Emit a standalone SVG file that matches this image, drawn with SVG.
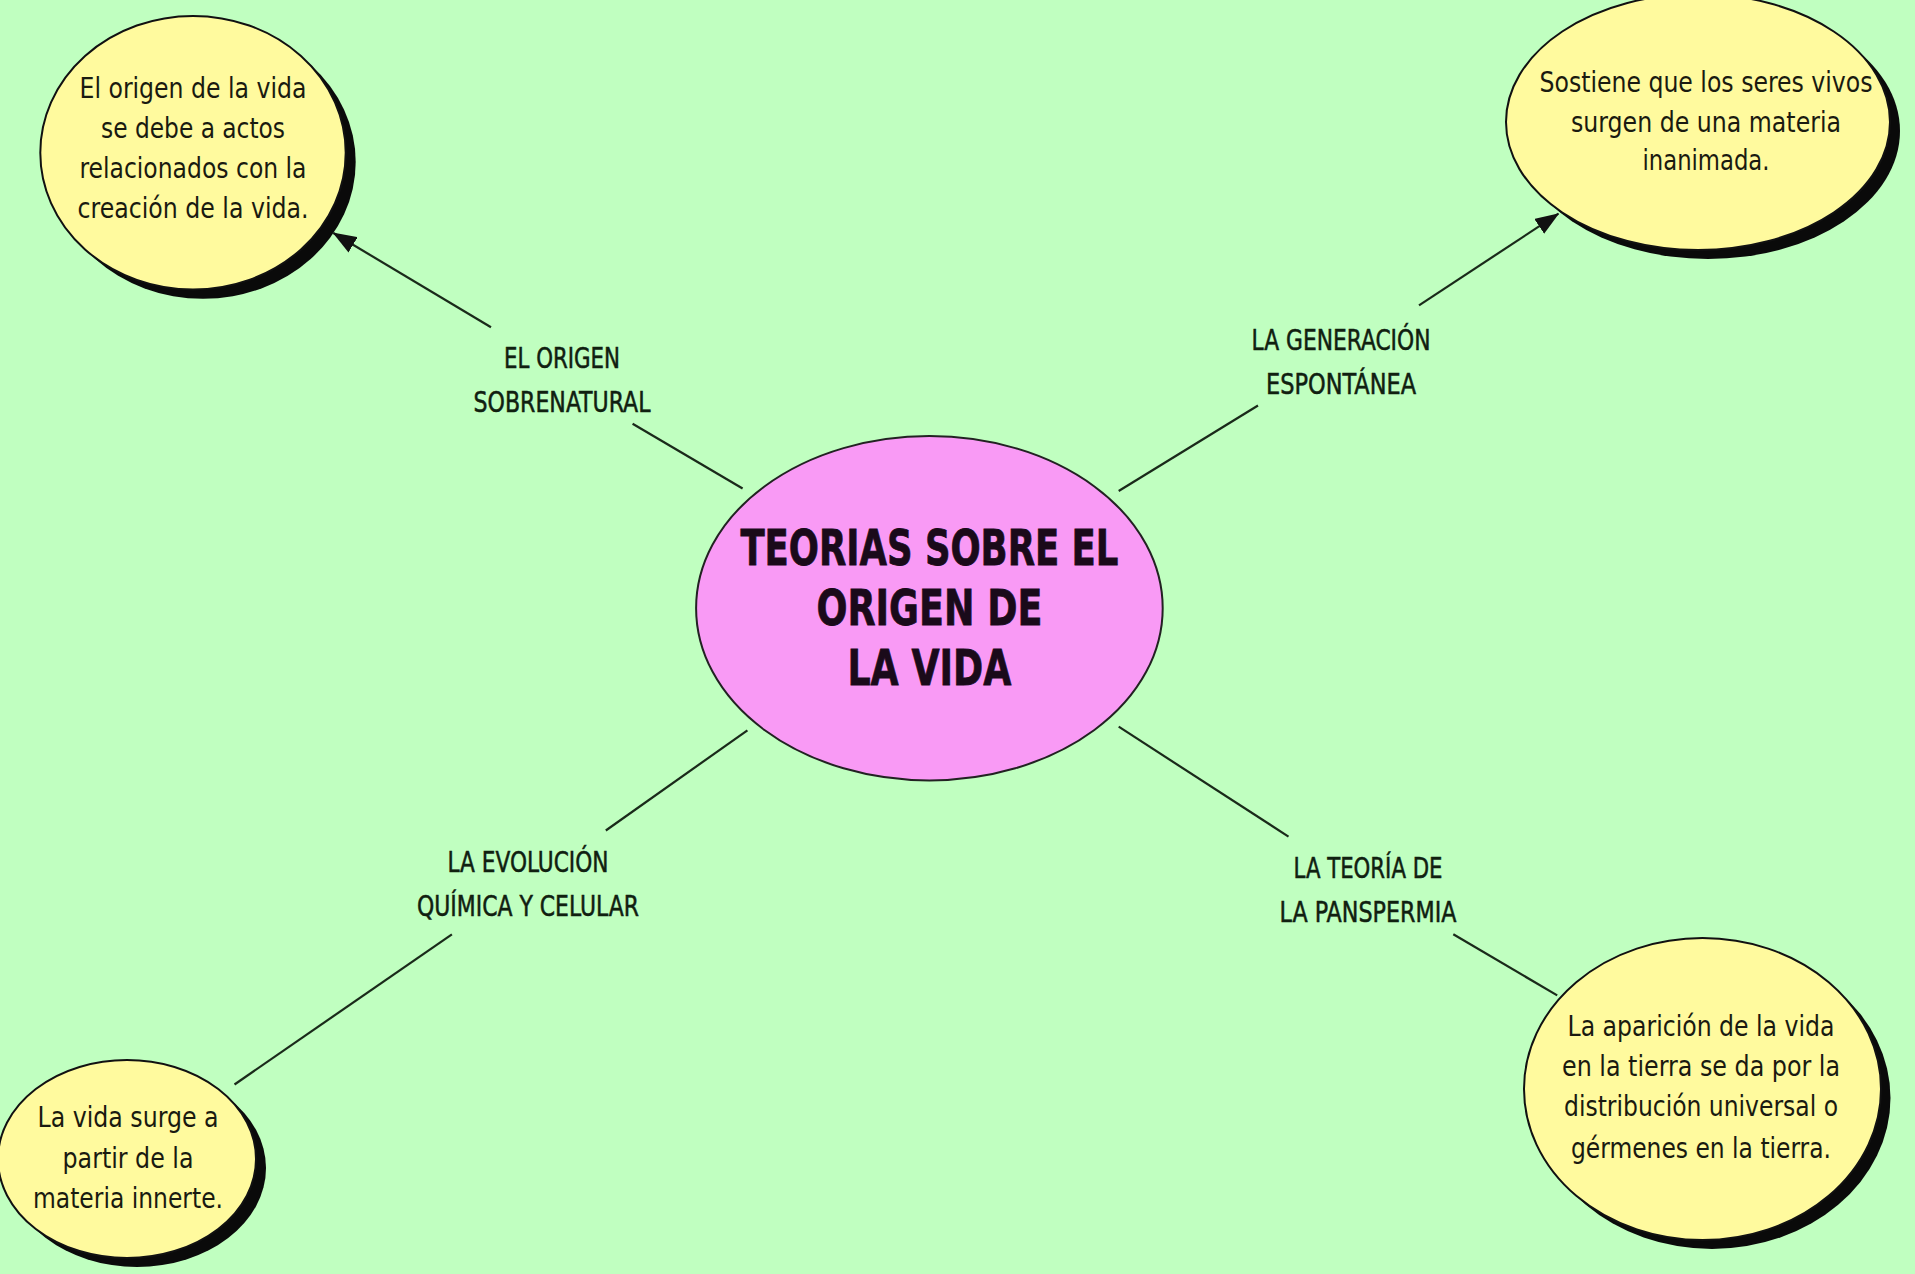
<svg xmlns="http://www.w3.org/2000/svg" width="1915" height="1274" viewBox="0 0 1915 1274">
<defs>
<marker id="arrow" viewBox="0 0 24 18" refX="23" refY="9" markerWidth="24" markerHeight="18" markerUnits="userSpaceOnUse" orient="auto">
<path d="M0,0 L24,9 L0,18 Z" fill="#111"/>
</marker>
<style>
.bg{fill:#C0FFC0}
.yel{fill:#FFFA9E;stroke:#111;stroke-width:2}
.shadow{fill:#0a0a0a}
.pink{fill:#F99AF5;stroke:#222;stroke-width:2}
.body{font-family:"DejaVu Sans Condensed","DejaVu Sans",sans-serif;font-size:28px;fill:#1a1a10;text-anchor:middle}
.lbl{font-family:"DejaVu Sans Condensed","DejaVu Sans",sans-serif;font-size:29px;fill:#102010;stroke:#102010;stroke-width:0.5;text-anchor:middle}
.title{font-family:"DejaVu Sans","Liberation Sans",sans-serif;font-weight:bold;font-size:50px;fill:#1a0a1a;stroke:#1a0a1a;stroke-width:0.8;text-anchor:middle}
.conn{stroke:#1a2a1a;stroke-width:2.2;fill:none}
</style>
</defs>
<rect class="bg" x="0" y="0" width="1915" height="1274"/>
<g id="connectors">
<line class="conn" x1="742.6" y1="488.5" x2="632.6" y2="423.8"/>
<line class="conn" x1="491" y1="327.3" x2="333.4" y2="233" marker-end="url(#arrow)"/>
<line class="conn" x1="1118.7" y1="491" x2="1258" y2="405.5"/>
<line class="conn" x1="1419" y1="305.3" x2="1558.4" y2="213.7" marker-end="url(#arrow)"/>
<line class="conn" x1="747.4" y1="730.3" x2="605.8" y2="830.5"/>
<line class="conn" x1="451.9" y1="934.3" x2="234.5" y2="1084.5"/>
<line class="conn" x1="1118.7" y1="726.7" x2="1288.5" y2="836.6"/>
<line class="conn" x1="1453.3" y1="934.3" x2="1557.2" y2="995.4"/>
<g id="label-sobrenatural">
<text class="lbl" x="562" y="368" textLength="116" lengthAdjust="spacingAndGlyphs">EL ORIGEN</text>
<text class="lbl" x="562" y="412" textLength="177" lengthAdjust="spacingAndGlyphs">SOBRENATURAL</text>
</g>
<g id="label-espontanea">
<text class="lbl" x="1341" y="350" textLength="179" lengthAdjust="spacingAndGlyphs">LA GENERACIÓN</text>
<text class="lbl" x="1341" y="394" textLength="150" lengthAdjust="spacingAndGlyphs">ESPONTÁNEA</text>
</g>
<g id="label-evolucion">
<text class="lbl" x="528" y="872" textLength="161" lengthAdjust="spacingAndGlyphs">LA EVOLUCIÓN</text>
<text class="lbl" x="528" y="916" textLength="222" lengthAdjust="spacingAndGlyphs">QUÍMICA Y CELULAR</text>
</g>
<g id="label-panspermia">
<text class="lbl" x="1368" y="878" textLength="149" lengthAdjust="spacingAndGlyphs">LA TEORÍA DE</text>
<text class="lbl" x="1368" y="922" textLength="177" lengthAdjust="spacingAndGlyphs">LA PANSPERMIA</text>
</g>
</g>
<g id="node-center">
<ellipse class="pink" cx="929.4" cy="608.2" rx="233.3" ry="172.2"/>
<text class="title" x="929.4" y="565" textLength="378" lengthAdjust="spacingAndGlyphs">TEORIAS SOBRE EL</text>
<text class="title" x="929.4" y="625" textLength="226" lengthAdjust="spacingAndGlyphs">ORIGEN DE</text>
<text class="title" x="929.4" y="685" textLength="164" lengthAdjust="spacingAndGlyphs">LA VIDA</text>
</g>
<g id="node-sobrenatural">
<ellipse class="shadow" cx="203" cy="162" rx="152.7" ry="136.8"/>
<ellipse class="yel" cx="193" cy="152.7" rx="152.7" ry="136.8"/>
<text class="body" x="193" y="98" textLength="227" lengthAdjust="spacingAndGlyphs">El origen de la vida</text>
<text class="body" x="193" y="138" textLength="184" lengthAdjust="spacingAndGlyphs">se debe a actos</text>
<text class="body" x="193" y="178" textLength="227" lengthAdjust="spacingAndGlyphs">relacionados con la</text>
<text class="body" x="193" y="218" textLength="231" lengthAdjust="spacingAndGlyphs">creación de la vida.</text>
</g>
<g id="node-espontanea">
<ellipse class="shadow" cx="1708" cy="131" rx="192" ry="128"/>
<ellipse class="yel" cx="1698" cy="122" rx="192" ry="128"/>
<text class="body" x="1706" y="92" textLength="333" lengthAdjust="spacingAndGlyphs">Sostiene que los seres vivos</text>
<text class="body" x="1706" y="132" textLength="270" lengthAdjust="spacingAndGlyphs">surgen de una materia</text>
<text class="body" x="1706" y="170" textLength="127" lengthAdjust="spacingAndGlyphs">inanimada.</text>
</g>
<g id="node-evolucion">
<ellipse class="shadow" cx="137" cy="1168" rx="129" ry="99"/>
<ellipse class="yel" cx="127" cy="1159" rx="129" ry="99"/>
<text class="body" x="128" y="1127" textLength="181" lengthAdjust="spacingAndGlyphs">La vida surge a</text>
<text class="body" x="128" y="1168" textLength="131" lengthAdjust="spacingAndGlyphs">partir de la</text>
<text class="body" x="128" y="1208" textLength="190" lengthAdjust="spacingAndGlyphs">materia innerte.</text>
</g>
<g id="node-panspermia">
<ellipse class="shadow" cx="1712" cy="1098" rx="178.5" ry="151"/>
<ellipse class="yel" cx="1702.5" cy="1089" rx="178.5" ry="151"/>
<text class="body" x="1701" y="1036" textLength="267" lengthAdjust="spacingAndGlyphs">La aparición de la vida</text>
<text class="body" x="1701" y="1076" textLength="278" lengthAdjust="spacingAndGlyphs">en la tierra se da por la</text>
<text class="body" x="1701" y="1116" textLength="274" lengthAdjust="spacingAndGlyphs">distribución universal o</text>
<text class="body" x="1701" y="1158" textLength="260" lengthAdjust="spacingAndGlyphs">gérmenes en la tierra.</text>
</g>
</svg>
